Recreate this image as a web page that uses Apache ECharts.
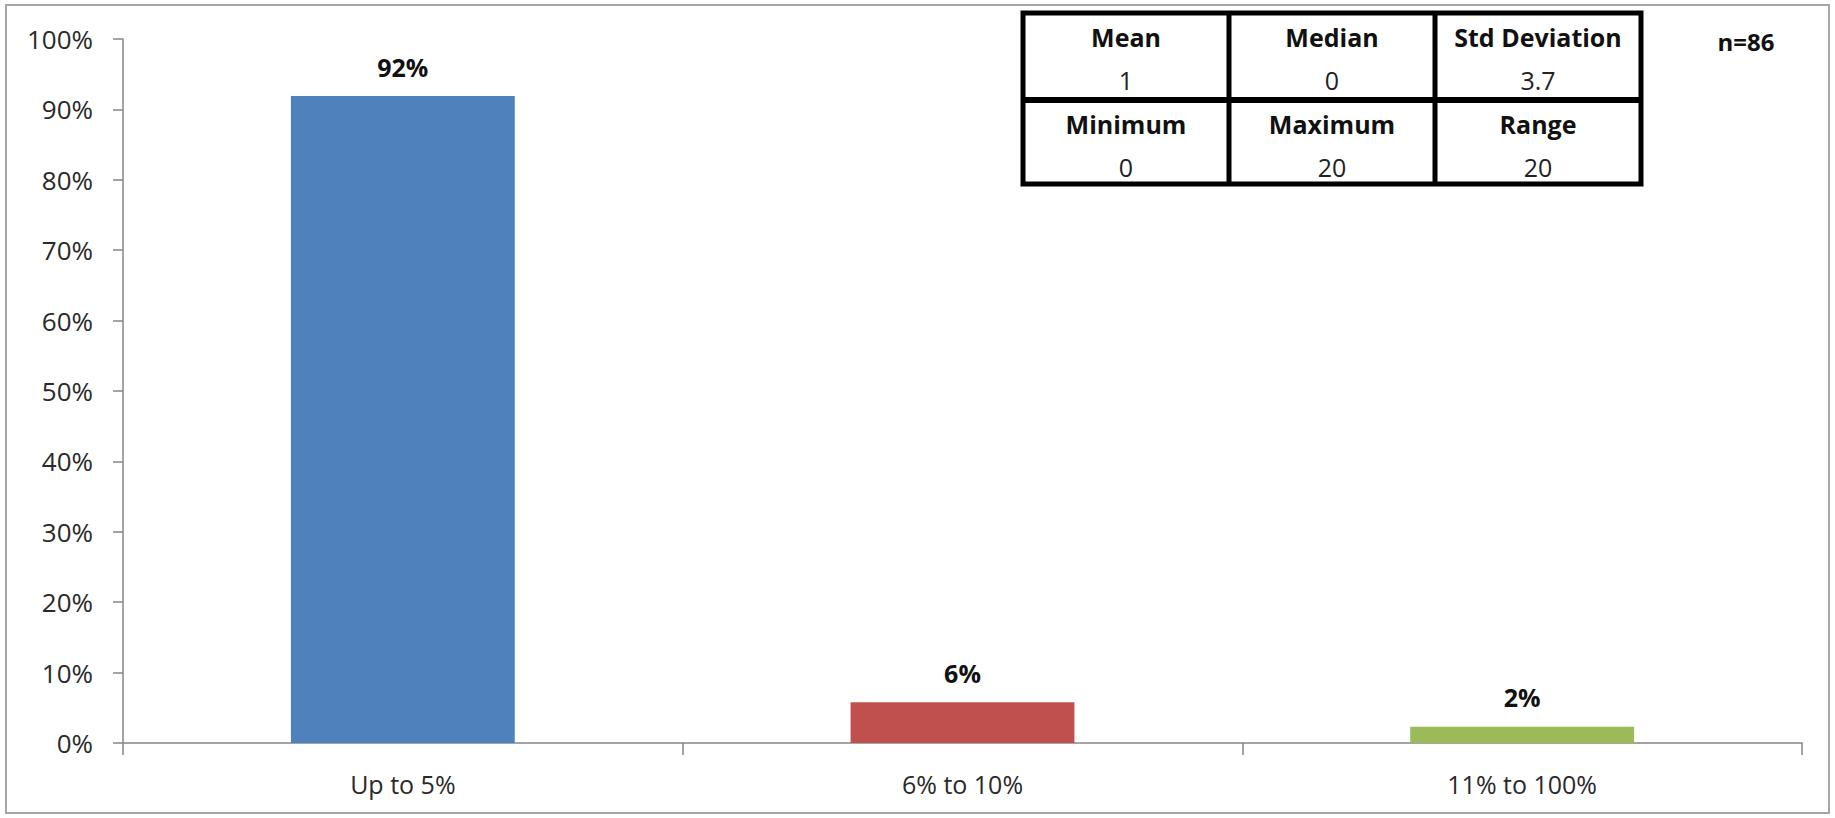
<!DOCTYPE html>
<html>
<head>
<meta charset="utf-8">
<script src="https://cdn.jsdelivr.net/npm/echarts@6/dist/echarts.min.js"></script>
<style>
html,body{margin:0;padding:0;background:#fff;}
#main{width:1835px;height:818px;}
</style>
</head>
<body>
<div id="main"></div>
<script>
var categories = ['Up to 5%', '6% to 10%', '11% to 100%'];
var values = [91.9, 5.8, 2.3];
var barColors = ['#4F81BD', '#C0504D', '#9BBB59'];
var yTicks = [0, 10, 20, 30, 40, 50, 60, 70, 80, 90, 100];
var statHeadersRow1 = ['Mean', 'Median', 'Std Deviation'];
var statValuesRow1 = ['1', '0', '3.7'];
var statHeadersRow2 = ['Minimum', 'Maximum', 'Range'];
var statValuesRow2 = ['0', '20', '20'];
var sampleNote = 'n=86';

var FONT = '"Open Sans", "Liberation Sans", sans-serif';
var chart = echarts.init(document.getElementById('main'), null, {renderer: 'svg'});

// table layout
var colEdges = [1023, 1229, 1435, 1641], rowEdges = [13, 100, 184];
var graphics = [];
graphics.push({type: 'rect', shape: {x: 6, y: 5, width: 1823, height: 808}, style: {fill: 'none', stroke: '#A6A6A6', lineWidth: 2}, z: 0});
graphics.push({type: 'rect', shape: {x: colEdges[0], y: rowEdges[0], width: colEdges[3] - colEdges[0], height: rowEdges[2] - rowEdges[0]}, style: {fill: '#fff', stroke: '#000', lineWidth: 5}, z: 10});
graphics.push({type: 'line', shape: {x1: colEdges[0], y1: rowEdges[1], x2: colEdges[3], y2: rowEdges[1]}, style: {stroke: '#000', lineWidth: 6}, z: 11});
[1, 2].forEach(function (i) {
  graphics.push({type: 'line', shape: {x1: colEdges[i], y1: rowEdges[0], x2: colEdges[i], y2: rowEdges[2]}, style: {stroke: '#000', lineWidth: 5}, z: 11});
});
function addRow(headers, vals, top) {
  for (var i = 0; i < 3; i++) {
    var cx = (colEdges[i] + colEdges[i + 1]) / 2;
    graphics.push({type: 'text', x: cx, y: top + 24, z: 12, style: {text: headers[i], fontFamily: FONT, fontSize: 25, fontWeight: 'bold', fill: '#111', align: 'center', verticalAlign: 'middle'}});
    graphics.push({type: 'text', x: cx, y: top + 67, z: 12, style: {text: vals[i], fontFamily: FONT, fontSize: 25, fill: '#222', align: 'center', verticalAlign: 'middle'}});
  }
}
addRow(statHeadersRow1, statValuesRow1, rowEdges[0]);
addRow(statHeadersRow2, statValuesRow2, rowEdges[1]);
graphics.push({type: 'text', x: 1746, y: 41, z: 12, style: {text: sampleNote, fontFamily: FONT, fontSize: 24, fontWeight: 'bold', fill: '#111', align: 'center', verticalAlign: 'middle'}});

chart.setOption({
  animation: false,
  backgroundColor: '#fff',
  grid: {left: 123, right: 33, top: 39, bottom: 75, containLabel: false},
  xAxis: {
    type: 'category',
    data: categories,
    axisLine: {lineStyle: {color: '#868686', width: 1.5}},
    axisTick: {show: true, alignWithLabel: false, length: 12, lineStyle: {color: '#868686', width: 1.5}},
    axisLabel: {color: '#2a2a2a', fontFamily: FONT, fontSize: 25, margin: 28}
  },
  yAxis: {
    type: 'value',
    min: yTicks[0],
    max: yTicks[yTicks.length - 1],
    interval: yTicks[1] - yTicks[0],
    axisLine: {show: true, lineStyle: {color: '#868686', width: 1.5}},
    axisTick: {show: true, inside: false, length: 10, lineStyle: {color: '#868686', width: 1.5}},
    splitLine: {show: false},
    axisLabel: {color: '#2a2a2a', fontFamily: FONT, fontSize: 26, margin: 30, formatter: '{value}%'}
  },
  series: [{
    type: 'bar',
    barWidth: '40%',
    data: values.map(function (v, i) { return {value: v, itemStyle: {color: barColors[i]}}; }),
    label: {
      show: true, position: 'top', distance: 17,
      fontFamily: FONT, fontSize: 25, fontWeight: 'bold', color: '#111',
      formatter: function (p) { return Math.round(p.value) + '%'; }
    }
  }],
  graphic: graphics
});
</script>
</body>
</html>
